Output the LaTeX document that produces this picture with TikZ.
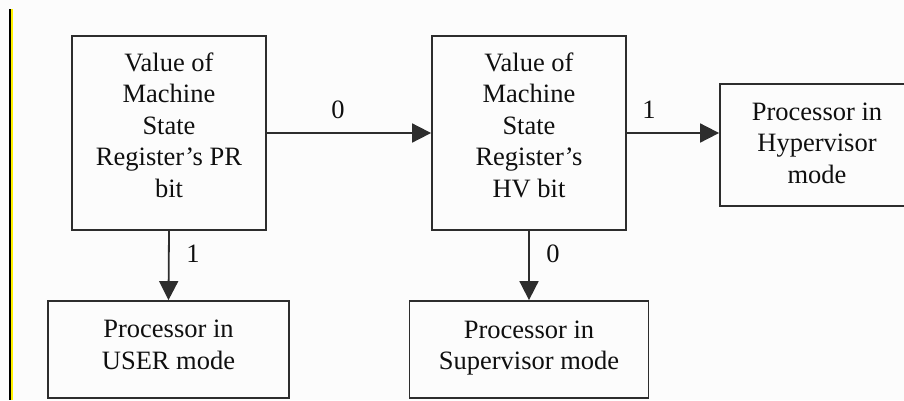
\documentclass[tikz,border=0pt]{standalone}
\usepackage{fontspec}
\setmainfont{Liberation Serif}
\usetikzlibrary{arrows.meta}
\definecolor{bg}{RGB}{252,252,252}
\definecolor{edge}{RGB}{45,45,45}
\definecolor{ink}{RGB}{15,15,15}
\begin{document}
\begin{tikzpicture}[x=1pt,y=-1pt,
  box/.style={draw=edge, line width=1.8pt, rectangle, inner sep=0pt},
  txt/.style={align=center, font=\fontsize{26.5}{31.5}\selectfont, inner sep=0pt, text=ink},
  arr/.style={draw=edge, line width=1.8pt, -{Triangle[length=19pt,width=19pt]}},
  lbl/.style={font=\fontsize{26.5}{31.5}\selectfont, inner sep=0pt, text=ink}]
\useasboundingbox (0,0) rectangle (904,400);
\fill[bg] (0,0) rectangle (904,400);
\fill[black] (9,9) rectangle (10.5,400);
\fill[yellow] (10.5,9) rectangle (12.7,400);
\clip (0,0) rectangle (904,400);

\node[box, minimum width=194pt, minimum height=194pt] (pr) at (169,133) {};
\node[box, minimum width=194pt, minimum height=194pt] (hv) at (529,133) {};
\node[box, minimum width=241pt, minimum height=97pt] (user) at (168.5,349.5) {};
\node[box, minimum width=239pt, minimum height=97pt] (sup) at (529,349.5) {};
\node[box, minimum width=194pt, minimum height=122pt] (hyp) at (817,145) {};

\node[txt] (prt) at (169,125) {Value of\\Machine\\State\\Register’s PR\\bit};
\node[txt] (hvt) at (529,125) {Value of\\Machine\\State\\Register’s\\HV bit};
\node[txt] (usert) at (168.5,345) {Processor in\\USER mode};
\node[txt] (supt) at (529,348) {Processor in\\Supervisor mode};
\node[txt] (hypt) at (817,143) {Processor in\\Hypervisor\\mode};

\draw[arr] (pr.south) -- (user.north);
\draw[arr] (pr.east) -- (hv.west);
\draw[arr] (hv.east) -- (hv.east -| hyp.west);
\draw[arr] (hv.south) -- (sup.north);

\node[lbl] (l0a) at (338,110) {0};
\node[lbl] (l1a) at (193,254) {1};
\node[lbl] (l1b) at (649,110) {1};
\node[lbl] (l0b) at (553,254) {0};
\end{tikzpicture}
\end{document}
